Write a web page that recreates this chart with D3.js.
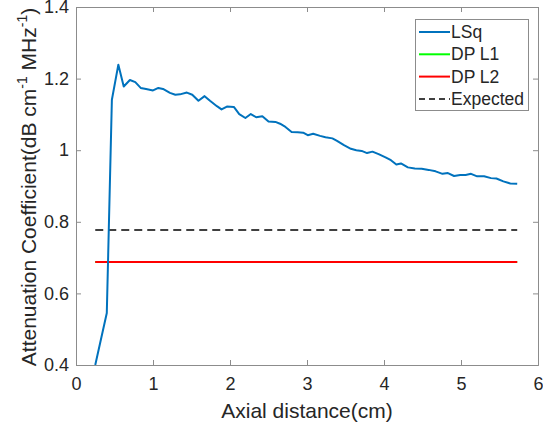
<!DOCTYPE html>
<html>
<head>
<meta charset="utf-8">
<script src="https://cdn.jsdelivr.net/npm/d3@7"></script>
<style>
  body { margin: 0; background: #fff; }
  svg text { font-family: "Liberation Sans", Arial, sans-serif; fill: #262626; }
</style>
</head>
<body>
<div id="chart"></div>
<script>
// LSq estimate along depth
var lsqX = [0.25, 0.40, 0.466, 0.55, 0.62, 0.70, 0.77, 0.84, 0.91, 1.00, 1.07, 1.13, 1.22, 1.29, 1.35, 1.44, 1.51, 1.59, 1.67, 1.74,
            1.83, 1.89, 1.96, 2.05, 2.12, 2.20, 2.27, 2.34, 2.42, 2.50, 2.59, 2.65, 2.72, 2.80, 2.88, 2.95, 3.01, 3.08, 3.17, 3.24,
            3.33, 3.39, 3.48, 3.57, 3.64, 3.71, 3.78, 3.85, 3.93, 4.02, 4.09, 4.16, 4.22, 4.31, 4.40, 4.49, 4.58, 4.67, 4.76, 4.83,
            4.91, 4.99, 5.06, 5.13, 5.21, 5.30, 5.39, 5.46, 5.55, 5.64, 5.73];
var lsqY = [0.400, 0.545, 1.141, 1.239, 1.178, 1.196, 1.190, 1.174, 1.171, 1.167, 1.174, 1.171, 1.160, 1.155, 1.156, 1.161, 1.155, 1.138, 1.151, 1.138,
            1.123, 1.114, 1.122, 1.121, 1.101, 1.090, 1.101, 1.092, 1.095, 1.080, 1.079, 1.074, 1.065, 1.051, 1.050, 1.049, 1.042, 1.046, 1.040, 1.036,
            1.033, 1.026, 1.014, 1.004, 1.000, 0.998, 0.992, 0.996, 0.989, 0.980, 0.972, 0.960, 0.963, 0.952, 0.949, 0.948, 0.945, 0.941, 0.934, 0.936,
            0.928, 0.931, 0.931, 0.934, 0.927, 0.927, 0.922, 0.921, 0.913, 0.907, 0.906];

// constant references (start, end)
var flatX = [0.25, 5.73];
var dpL1 = 0.688;
var dpL2 = 0.688;
var expected = 0.777;

var xTicks = [0, 1, 2, 3, 4, 5, 6];
var yTicks = [0.4, 0.6, 0.8, 1, 1.2, 1.4];

var legendNames = ["LSq", "DP L1", "DP L2", "Expected"];
var legendColors = ["#0072BD", "#00FF00", "#FF0000", "#404040"];

var width = 543, height = 427;
var box = { left: 76, right: 538, top: 7, bottom: 365 };

var svg = d3.select("#chart")
    .append("svg")
    .attr("width", width)
    .attr("height", height);

var x = d3.scaleLinear().domain([0, 6]).range([box.left, box.right]);
var y = d3.scaleLinear().domain([0.4, 1.4]).range([box.bottom, box.top]);

svg.append("clipPath").attr("id", "clip")
    .append("rect")
    .attr("x", box.left).attr("y", box.top)
    .attr("width", box.right - box.left).attr("height", box.bottom - box.top);

var plot = svg.append("g").attr("clip-path", "url(#clip)");

// flat lines
var flat = [
    { v: expected, color: legendColors[3], dash: "8,5" },
    { v: dpL1, color: legendColors[1], dash: null },
    { v: dpL2, color: legendColors[2], dash: null }
];
flat.forEach(function(f) {
    plot.append("line")
        .attr("x1", x(flatX[0])).attr("x2", x(flatX[1]))
        .attr("y1", y(f.v)).attr("y2", y(f.v))
        .attr("stroke", f.color)
        .attr("stroke-width", 2)
        .attr("stroke-dasharray", f.dash);
});

var line = d3.line()
    .x(function(d, i) { return x(lsqX[i]); })
    .y(function(d) { return y(d); });

plot.append("path")
    .datum(lsqY)
    .attr("d", line)
    .attr("fill", "none")
    .attr("stroke", legendColors[0])
    .attr("stroke-width", 2)
    .attr("stroke-linejoin", "round");

// axes, matlab style box with inward ticks
var axColor = "#8c8c8c";
var tl = 5;

var xAxis = svg.append("g")
    .attr("transform", "translate(0," + box.bottom + ")")
    .call(d3.axisBottom(x).tickValues(xTicks).tickSize(-tl).tickPadding(12).tickFormat(d3.format("d")));
var xTop = svg.append("g")
    .attr("transform", "translate(0," + box.top + ")")
    .call(d3.axisTop(x).tickValues(xTicks).tickSize(-tl).tickFormat(""));
var yAxis = svg.append("g")
    .attr("transform", "translate(" + box.left + ",0)")
    .call(d3.axisLeft(y).tickValues(yTicks).tickSize(-tl).tickPadding(7).tickFormat(function(d) { return d3.format("")(+d.toFixed(1)); }));
var yRight = svg.append("g")
    .attr("transform", "translate(" + box.right + ",0)")
    .call(d3.axisRight(y).tickValues(yTicks).tickSize(-tl).tickFormat(""));

[xAxis, xTop, yAxis, yRight].forEach(function(a) {
    a.select(".domain").attr("stroke", axColor).attr("stroke-width", 1);
    a.selectAll(".tick line").attr("stroke", axColor);
    a.selectAll(".tick text").style("font-size", "18px").attr("fill", "#262626")
        .style("font-family", "'Liberation Sans', Arial, sans-serif");
});

// axis labels
svg.append("text")
    .attr("x", (box.left + box.right) / 2)
    .attr("y", 418)
    .attr("text-anchor", "middle")
    .style("font-size", "21px")
    .text("Axial distance(cm)");

var yl = svg.append("text")
    .attr("transform", "translate(36," + ((box.top + box.bottom) / 2 + 1) + ") rotate(-90)")
    .attr("text-anchor", "middle")
    .style("font-size", "21px");
yl.append("tspan").text("Attenuation Coefficient(dB cm");
yl.append("tspan").attr("dy", -9).style("font-size", "14px").text("-1");
yl.append("tspan").attr("dy", 9).text(" MHz");
yl.append("tspan").attr("dy", -9).style("font-size", "14px").text("-1");
yl.append("tspan").attr("dy", 9).text(")");

// legend
var lg = svg.append("g");
lg.append("rect")
    .attr("x", 415.5).attr("y", 19.5)
    .attr("width", 113).attr("height", 91)
    .attr("fill", "#fff")
    .attr("stroke", axColor);

legendNames.forEach(function(name, i) {
    var cy = 32 + i * 22.3;
    lg.append("line")
        .attr("x1", 419).attr("x2", 450)
        .attr("y1", cy).attr("y2", cy)
        .attr("stroke", legendColors[i])
        .attr("stroke-width", 2)
        .attr("stroke-dasharray", i === 3 ? "6,4" : null);
    lg.append("text")
        .attr("x", 451)
        .attr("y", cy + 6)
        .style("font-size", "17.5px")
        .text(name);
});
</script>
</body>
</html>
